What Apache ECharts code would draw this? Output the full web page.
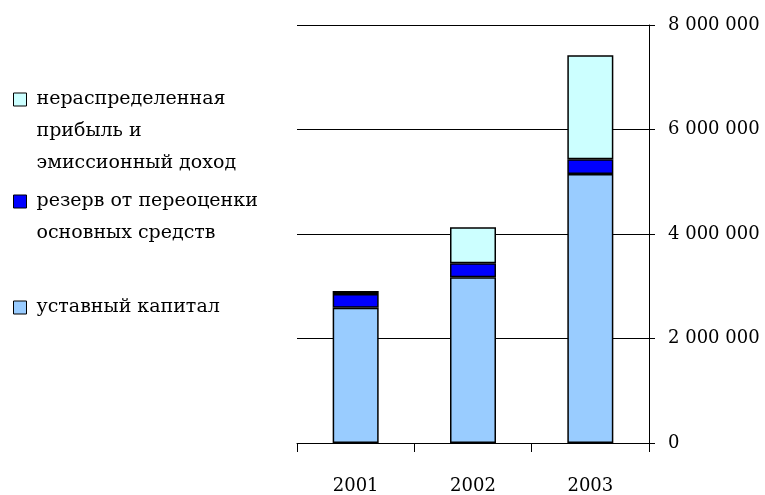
<!DOCTYPE html>
<html>
<head>
<meta charset="utf-8">
<script src="https://cdn.jsdelivr.net/npm/echarts@6/dist/echarts.min.js"></script>
<style>
  html, body { margin: 0; padding: 0; background: #fff; }
  #chart { width: 765px; height: 495px; }
</style>
</head>
<body>
<div id="chart"></div>
<script>
// Years on the category axis
const years = ['2001', '2002', '2003'];

// Series names and their wrapped legend lines
const nameRetained = 'нераспределенная прибыль и эмиссионный доход';
const nameReserve = 'резерв от переоценки основных средств';
const nameCapital = 'уставный капитал';
const linesRetained = ['нераспределенная', 'прибыль и', 'эмиссионный доход'];
const linesReserve = ['резерв от переоценки', 'основных средств'];
const linesCapital = ['уставный капитал'];

// Stacked values (bottom to top)
const capital = [2590000, 3170000, 5150000];
const reserve = [260000, 270000, 280000];
const retained = [60000, 690000, 1990000];

// Value axis range
const yMin = 0;
const yMax = 8000000;
const yStep = 2000000;

const FONT = 'DejaVu Serif';
const LINE_H = 32;

function spaced(v) {
  return String(v).replace(/\B(?=(\d{3})+(?!\d))/g, ' ');
}

// Legend text is centred on its swatch, so blank lines are put in front
// of a wrapped label to keep the swatch level with the first line.
function legendFor(name, lines, top, color) {
  const lead = new Array(lines.length).join('\n');
  const body = lines.map(function (l) { return '{t|' + l + '}'; }).join('\n');
  return {
    orient: 'vertical',
    left: 13,
    top: top,
    padding: 0,
    itemWidth: 13,
    itemHeight: 13,
    icon: 'rect',
    selectedMode: false,
    data: [name],
    itemStyle: { color: color, borderColor: '#000', borderWidth: 1 },
    formatter: function () { return lead + body; },
    textStyle: {
      fontFamily: FONT,
      fontSize: 19,
      color: '#000',
      lineHeight: LINE_H,
      rich: {
        t: {
          fontFamily: FONT,
          fontSize: 19,
          color: '#000',
          lineHeight: LINE_H,
          padding: [0, 0, 0, 5]
        }
      }
    }
  };
}

const chart = echarts.init(document.getElementById('chart'), null, { renderer: 'canvas' });

chart.setOption({
  animation: false,
  backgroundColor: '#fff',
  textStyle: { fontFamily: FONT },
  grid: { left: 297, right: 116, top: 25, bottom: 52 },
  legend: [
    legendFor(nameRetained, linesRetained, 19.5, '#CCFFFF'),
    legendFor(nameReserve, linesReserve, 153.5, '#0000FF'),
    legendFor(nameCapital, linesCapital, 291.5, '#99CCFF')
  ],
  xAxis: {
    type: 'category',
    data: years,
    boundaryGap: true,
    axisLine: { show: true, lineStyle: { color: '#000', width: 1 } },
    axisTick: { show: true, length: 9, lineStyle: { color: '#000' } },
    axisLabel: { color: '#000', fontFamily: FONT, fontSize: 18, margin: 34 },
    splitLine: { show: false }
  },
  yAxis: {
    type: 'value',
    position: 'right',
    min: yMin,
    max: yMax,
    interval: yStep,
    axisLine: { show: true, lineStyle: { color: '#000', width: 1 } },
    axisTick: { show: true, length: 6, lineStyle: { color: '#000' } },
    axisLabel: { color: '#000', fontFamily: FONT, fontSize: 18, margin: 19, formatter: spaced },
    splitLine: { show: true, lineStyle: { color: '#000', width: 1 } }
  },
  series: [
    {
      name: nameCapital, type: 'bar', stack: 'total', barWidth: 46, data: capital,
      itemStyle: { color: '#99CCFF', borderColor: '#000', borderWidth: 1.5 }
    },
    {
      name: nameReserve, type: 'bar', stack: 'total', barWidth: 46, data: reserve,
      itemStyle: { color: '#0000FF', borderColor: '#000', borderWidth: 1.5 }
    },
    {
      name: nameRetained, type: 'bar', stack: 'total', barWidth: 46, data: retained,
      itemStyle: { color: '#CCFFFF', borderColor: '#000', borderWidth: 1.5 }
    }
  ]
});
</script>
</body>
</html>
